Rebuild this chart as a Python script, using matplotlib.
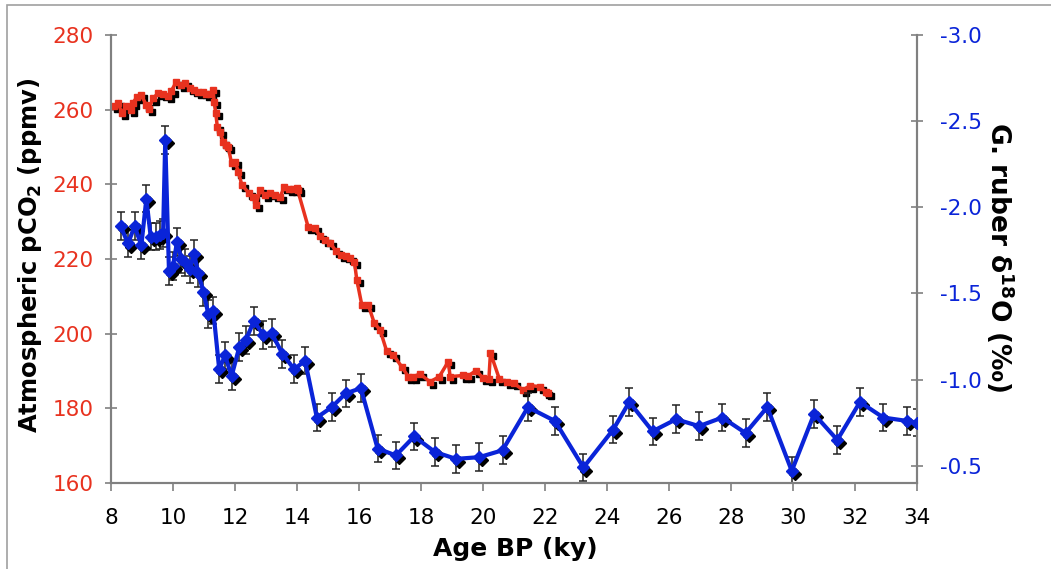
import matplotlib
matplotlib.use("Agg")
import matplotlib.pyplot as plt
from matplotlib.transforms import offset_copy
from matplotlib.patches import Rectangle

plt.rcParams['font.family'] = ['DejaVu Sans']
plt.rcParams['axes.unicode_minus'] = False

# atmospheric CO2 (ppmv) vs age (ky BP)
co2_age = [8.10, 8.23, 8.35, 8.49, 8.64, 8.71, 8.85, 8.98, 9.14, 9.22, 9.35, 9.52, 9.68, 9.84,
           9.95, 10.11, 10.27, 10.40, 10.54, 10.68, 10.81, 10.97, 11.07, 11.18, 11.29, 11.33,
           11.38, 11.43, 11.52, 11.62, 11.71, 11.78, 11.89, 12.00, 12.11, 12.22, 12.46, 12.57,
           12.68, 12.81, 12.97, 13.13, 13.29, 13.45, 13.58, 13.75, 13.88, 13.99, 14.02,
           14.36, 14.58, 14.74, 14.90, 15.06, 15.25, 15.42, 15.57, 15.71, 15.85, 15.93, 16.09,
           16.30, 16.49, 16.68, 16.89, 17.11, 17.38, 17.59, 17.75, 17.97, 18.29, 18.59, 18.88,
           18.94, 19.36, 19.53, 19.77, 20.01, 20.19, 20.24, 20.53, 20.76, 21.00, 21.29, 21.52,
           21.85, 22.03, 22.11]
co2 = [261.0, 261.9, 259.0, 261.0, 259.9, 261.9, 263.5, 263.9, 261.2, 260.1, 263.0, 264.4, 264.2,
       263.7, 265.1, 267.5, 266.6, 267.1, 265.7, 265.3, 264.8, 264.7, 264.2, 264.1, 265.3, 262.1,
       259.0, 255.4, 254.1, 251.4, 250.5, 250.1, 245.6, 246.1, 243.4, 239.8, 237.6, 236.7, 234.5,
       238.5, 237.1, 237.6, 237.1, 236.5, 239.2, 238.7, 238.7, 238.9, 238.5,
       228.6, 228.2, 226.2, 225.1, 224.4, 222.2, 221.1, 220.8, 220.2, 219.3, 214.4, 207.7,
       207.7, 202.9, 201.0, 195.4, 194.3, 191.1, 188.5, 188.5, 189.2, 187.1, 188.5, 192.5,
       188.5, 188.8, 188.7, 190.1, 188.1, 187.8, 194.9, 187.8, 187.1, 186.7, 184.9, 186.1,
       185.8, 184.4, 184.0]

# G. ruber d18O (permil) vs age (ky BP)
d18o_age = [8.31, 8.55, 8.76, 8.98, 9.14, 9.28, 9.44, 9.57, 9.68, 9.75, 9.87, 10.00, 10.13,
            10.27, 10.40, 10.54, 10.68, 10.81, 10.98, 11.14, 11.30, 11.49, 11.68, 11.89, 12.14,
            12.35, 12.61, 12.91, 13.18, 13.53, 13.91, 14.26, 14.64, 15.12, 15.57, 16.06, 16.60,
            17.19, 17.78, 18.45, 19.13, 19.88, 20.63, 21.45, 22.32, 23.24, 24.20, 24.72, 25.47,
            26.23, 26.97, 27.72, 28.47, 29.17, 29.96, 30.68, 31.43, 32.16, 32.91, 33.69, 34.0]
d18o = [-1.89, -1.79, -1.89, -1.78, -2.05, -1.83, -1.83, -1.84, -1.85, -2.39, -1.63, -1.66, -1.80,
        -1.70, -1.68, -1.64, -1.73, -1.62, -1.51, -1.38, -1.40, -1.06, -1.14, -1.02, -1.19,
        -1.23, -1.34, -1.26, -1.27, -1.15, -1.06, -1.11, -0.78, -0.84, -0.92, -0.95, -0.60,
        -0.56, -0.67, -0.58, -0.54, -0.55, -0.59, -0.84, -0.76, -0.49, -0.71, -0.87, -0.70,
        -0.77, -0.73, -0.78, -0.69, -0.84, -0.47, -0.80, -0.65, -0.87, -0.78, -0.76, -0.75]
d18o_err = 0.08

left_ticks = [160, 180, 200, 220, 240, 260, 280]
right_ticks = [-3.0, -2.5, -2.0, -1.5, -1.0, -0.5]
x_ticks = list(range(8, 35, 2))

red = '#e8321f'
blue = '#0a24d8'
grey = '#808080'

fig = plt.figure(figsize=(10.51, 5.69), dpi=100)
fig.patches.append(Rectangle((7 / 1051, -0.1), 1.2, 1.1 - 5 / 569, transform=fig.transFigure,
                             fill=False, edgecolor='#a0a0a0', lw=1.2))
ax = fig.add_axes([111 / 1051, 86 / 569, 806 / 1051, 448 / 569])
ax2 = ax.twinx()

shadow1 = offset_copy(ax.transData, fig=fig, x=2.2, y=-2.2, units='points')
shadow2 = offset_copy(ax2.transData, fig=fig, x=2.2, y=-2.2, units='points')

ax.plot(co2_age, co2, ls='none', marker='s', ms=5, color='black', transform=shadow1, zorder=2)
ax.plot(co2_age, co2, color=red, lw=2.5, marker='s', ms=5, mec=red, zorder=3)

ax2.errorbar(d18o_age, d18o, yerr=d18o_err, fmt='none', ecolor='#222222', elinewidth=1.1,
             capsize=3, capthick=1.1, zorder=1)
ax2.plot(d18o_age, d18o, ls='none', marker='D', ms=6, color='black', transform=shadow2, zorder=2)
ax2.plot(d18o_age, d18o, color=blue, lw=3, marker='D', ms=6, mec=blue, zorder=3)

ax.set_xlim(8, 34)
ax.set_ylim(160, 280)
ax2.set_ylim(-0.4, -3.0)
ax.set_xticks(x_ticks)
ax.set_yticks(left_ticks)
ax2.set_yticks(right_ticks)
ax2.set_yticklabels([f'{t:.1f}' for t in right_ticks])

for a in (ax, ax2):
    a.spines['top'].set_visible(False)
    for s in ('left', 'right', 'bottom'):
        a.spines[s].set_color(grey)
        a.spines[s].set_linewidth(1.5)
    a.set_facecolor('none')
ax.tick_params(axis='x', direction='out', length=6, width=1.2, color=grey, labelsize=15.5, pad=12)
ax.tick_params(axis='y', direction='inout', length=9, width=1.2, color=grey, labelsize=15.5,
               labelcolor=red, pad=8)
ax2.tick_params(axis='y', direction='inout', length=9, width=1.2, color=grey, labelsize=15.5,
                labelcolor=blue, pad=12)

fig.text(30 / 1051, 1 - 255 / 569, r'Atmospheric pCO$_\mathbf{2}$ (ppmv)', rotation=90,
         ha='center', va='center', fontsize=17.5, fontweight='bold')
fig.text(1000 / 1051, 1 - 257 / 569, r'G. ruber δ$^{\mathbf{18}}$O (‰)', rotation=270,
         ha='center', va='center', fontsize=19, fontweight='bold')
fig.text(515 / 1051, 1 - 549 / 569, 'Age BP (ky)', ha='center', va='center',
         fontsize=18, fontweight='bold')

fig.savefig('out.png', dpi=100)
